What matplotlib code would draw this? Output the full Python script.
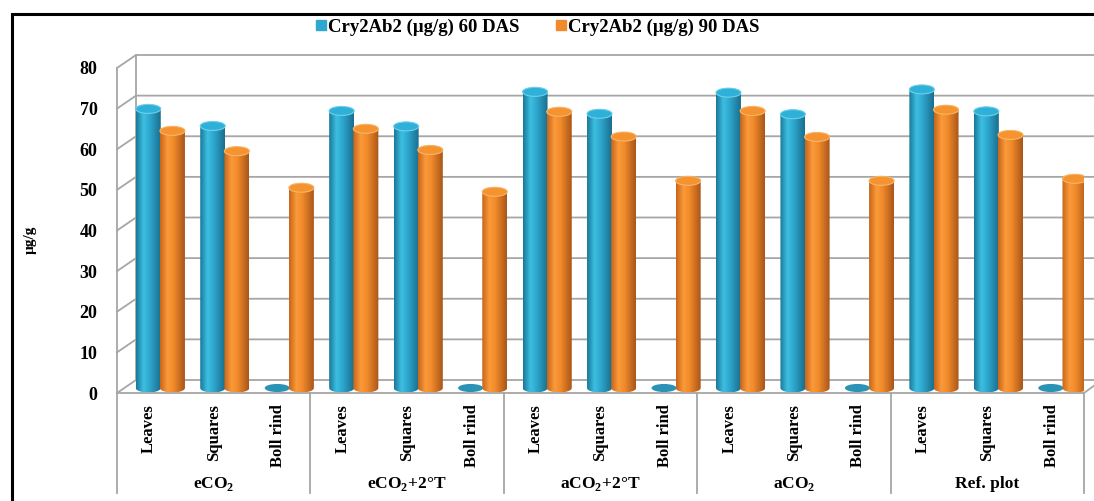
import numpy as np
import matplotlib.pyplot as plt
from matplotlib.patches import Ellipse, PathPatch, Rectangle
from matplotlib.path import Path
from matplotlib.lines import Line2D

groups = ["eCO$_\\mathbf{2}$", "eCO$_\\mathbf{2}$+2°T", "aCO$_\\mathbf{2}$+2°T",
          "aCO$_\\mathbf{2}$", "Ref. plot"]
parts = ["Leaves", "Squares", "Boll rind"]
das60 = [68.7, 64.5, 0, 68.2, 64.4, 0, 72.9, 67.5, 0, 72.7, 67.4, 0, 73.5, 68.1, 0]
das90 = [63.3, 58.3, 49.3, 63.8, 58.6, 48.3, 68.0, 61.9, 51.0, 68.2, 61.8, 51.0, 68.5, 62.3, 51.5]
series = ["Cry2Ab2 (µg/g) 60 DAS", "Cry2Ab2 (µg/g) 90 DAS"]

serif = ["Liberation Serif", "DejaVu Serif"]
plt.rcParams["font.family"] = serif
plt.rcParams["font.weight"] = "bold"
plt.rcParams["mathtext.fontset"] = "custom"
plt.rcParams["mathtext.rm"] = "Liberation Serif:bold"
plt.rcParams["mathtext.bf"] = "Liberation Serif:bold"

W, H = 1094, 501
fig = plt.figure(figsize=(W / 100, H / 100), dpi=100)
ax = fig.add_axes([117 / W, (H - 393) / H, 967 / W, 325 / H])
n = len(das60)
for s in ax.spines.values():
    s.set_visible(False)

# pixel -> data helpers
px_x = 967 / n
px_y = 325 / 80
dxb, dyb = 19 / px_x, 13 / px_y   # back wall depth
fl = 5 / px_y                     # bar floor offset
grid_c = "#a6a6a6"

# back wall grid + side diagonals
for v in range(0, 90, 10):
    ax.add_line(Line2D([0, dxb, n + 0.2], [v, v + dyb, v + dyb], color=grid_c, lw=1.3,
                       clip_on=False, zorder=1))
ax.add_line(Line2D([dxb, dxb], [dyb, 80 + dyb], color=grid_c, lw=1.3, clip_on=False, zorder=1))
ax.add_line(Line2D([0, 0], [0, 80], color=grid_c, lw=1.3, clip_on=False, zorder=1))
ax.add_line(Line2D([0, n, n + 11 / px_x], [0, 0, 8 / px_y], color=grid_c, lw=1.3,
                   clip_on=False, zorder=1))

# category axis separators
xt = ax.get_xaxis_transform()
for g in range(len(groups) + 1):
    ax.add_line(Line2D([g * 3, g * 3], [0, -100 / 325], transform=xt, color=grid_c, lw=1.3,
                       clip_on=False))


def cylinder(cx, val, colors, top_face, top_edge, z):
    w = 12.5 / px_x
    e = 4.5 / px_y
    yb = fl
    yt = fl + val
    if val <= 0:
        ax.add_patch(Ellipse((cx, yb), 2 * w, 2 * e * 0.9, facecolor="#2a93b6", edgecolor="none",
                             zorder=z))
        return
    t1 = np.linspace(np.pi, 2 * np.pi, 30)
    t2 = np.linspace(0, np.pi, 30)
    verts = [(cx - w, yt), (cx - w, yb)]
    verts += [(cx + w * np.cos(t), yb + e * np.sin(t)) for t in t1]
    verts += [(cx + w, yt)]
    verts += [(cx + w * np.cos(t), yt + e * np.sin(t)) for t in t2]
    verts += [(cx - w, yt)]
    clip = PathPatch(Path(verts), facecolor="none", edgecolor="none", transform=ax.transData)
    ax.add_patch(clip)
    pos = np.linspace(0, 1, 64)
    stops = [0, 0.3, 0.55, 1]
    rgb = np.array([[int(c[i:i + 2], 16) / 255 for i in (1, 3, 5)] for c in colors])
    grad = np.stack([np.interp(pos, stops, rgb[:, k]) for k in range(3)], axis=-1)[None, :, :]
    im = ax.imshow(grad, extent=(cx - w, cx + w, yb - e, yt + e), aspect="auto",
                   interpolation="bilinear", zorder=z)
    im.set_clip_path(clip)
    ax.add_patch(Ellipse((cx, yt), 2 * w, 2 * e, facecolor=top_face, edgecolor=top_edge,
                         lw=0.8, zorder=z + 0.1))


blue = ["#1b7899", "#3cbfe2", "#2ea6cd", "#1a6f8e"]
orange = ["#c8651a", "#fb9a3a", "#f08a2a", "#a9561a"]
for i in range(n):
    cylinder(i + 0.485, das60[i], blue, "#2fb0d8", "#6fd0ea", 3 + i * 0.5)
    cylinder(i + 0.86, das90[i], orange, "#f59330", "#f9b566", 3.2 + i * 0.5)

ax.set_xlim(0, n)
ax.set_ylim(0, 80)

ax.set_yticks(range(0, 90, 10))
ax.tick_params(axis="y", length=0, pad=14, labelsize=13)
ax.set_xticks(np.arange(n) + 0.5)
ax.set_xticklabels(parts * len(groups), rotation=90, va="top", ha="center")
ax.tick_params(axis="x", length=0, pad=8, labelsize=12)
for lab in ax.get_xticklabels() + ax.get_yticklabels():
    lab.set_fontweight("bold")

for g, name in enumerate(groups):
    ax.text(g * 3 + 1.5, -91 / 325, name, transform=xt, ha="center", va="center",
            fontsize=12.5, fontweight="bold")

fig.text(30 / W, 1 - 240 / H, "µg/g", rotation=90, ha="center", va="center",
         fontsize=11, fontweight="bold")

handles = [Line2D([], [], marker="s", ls="none", markersize=7, color="#2fa8cf"),
           Line2D([], [], marker="s", ls="none", markersize=7, color="#f08a2a")]
fig.legend(handles, series, loc="center", bbox_to_anchor=(537 / W, 1 - 27 / H), ncol=2,
           frameon=False, prop={"family": serif, "weight": "bold", "size": 13.5},
           handletextpad=0.0, columnspacing=1.9, handlelength=0.7)

fig.add_artist(Rectangle((12 / W, -0.1), 1.2, 1.1 - 13.5 / H, transform=fig.transFigure,
                         fill=False, edgecolor="black", lw=2.2))

fig.savefig("out.png", dpi=100)
